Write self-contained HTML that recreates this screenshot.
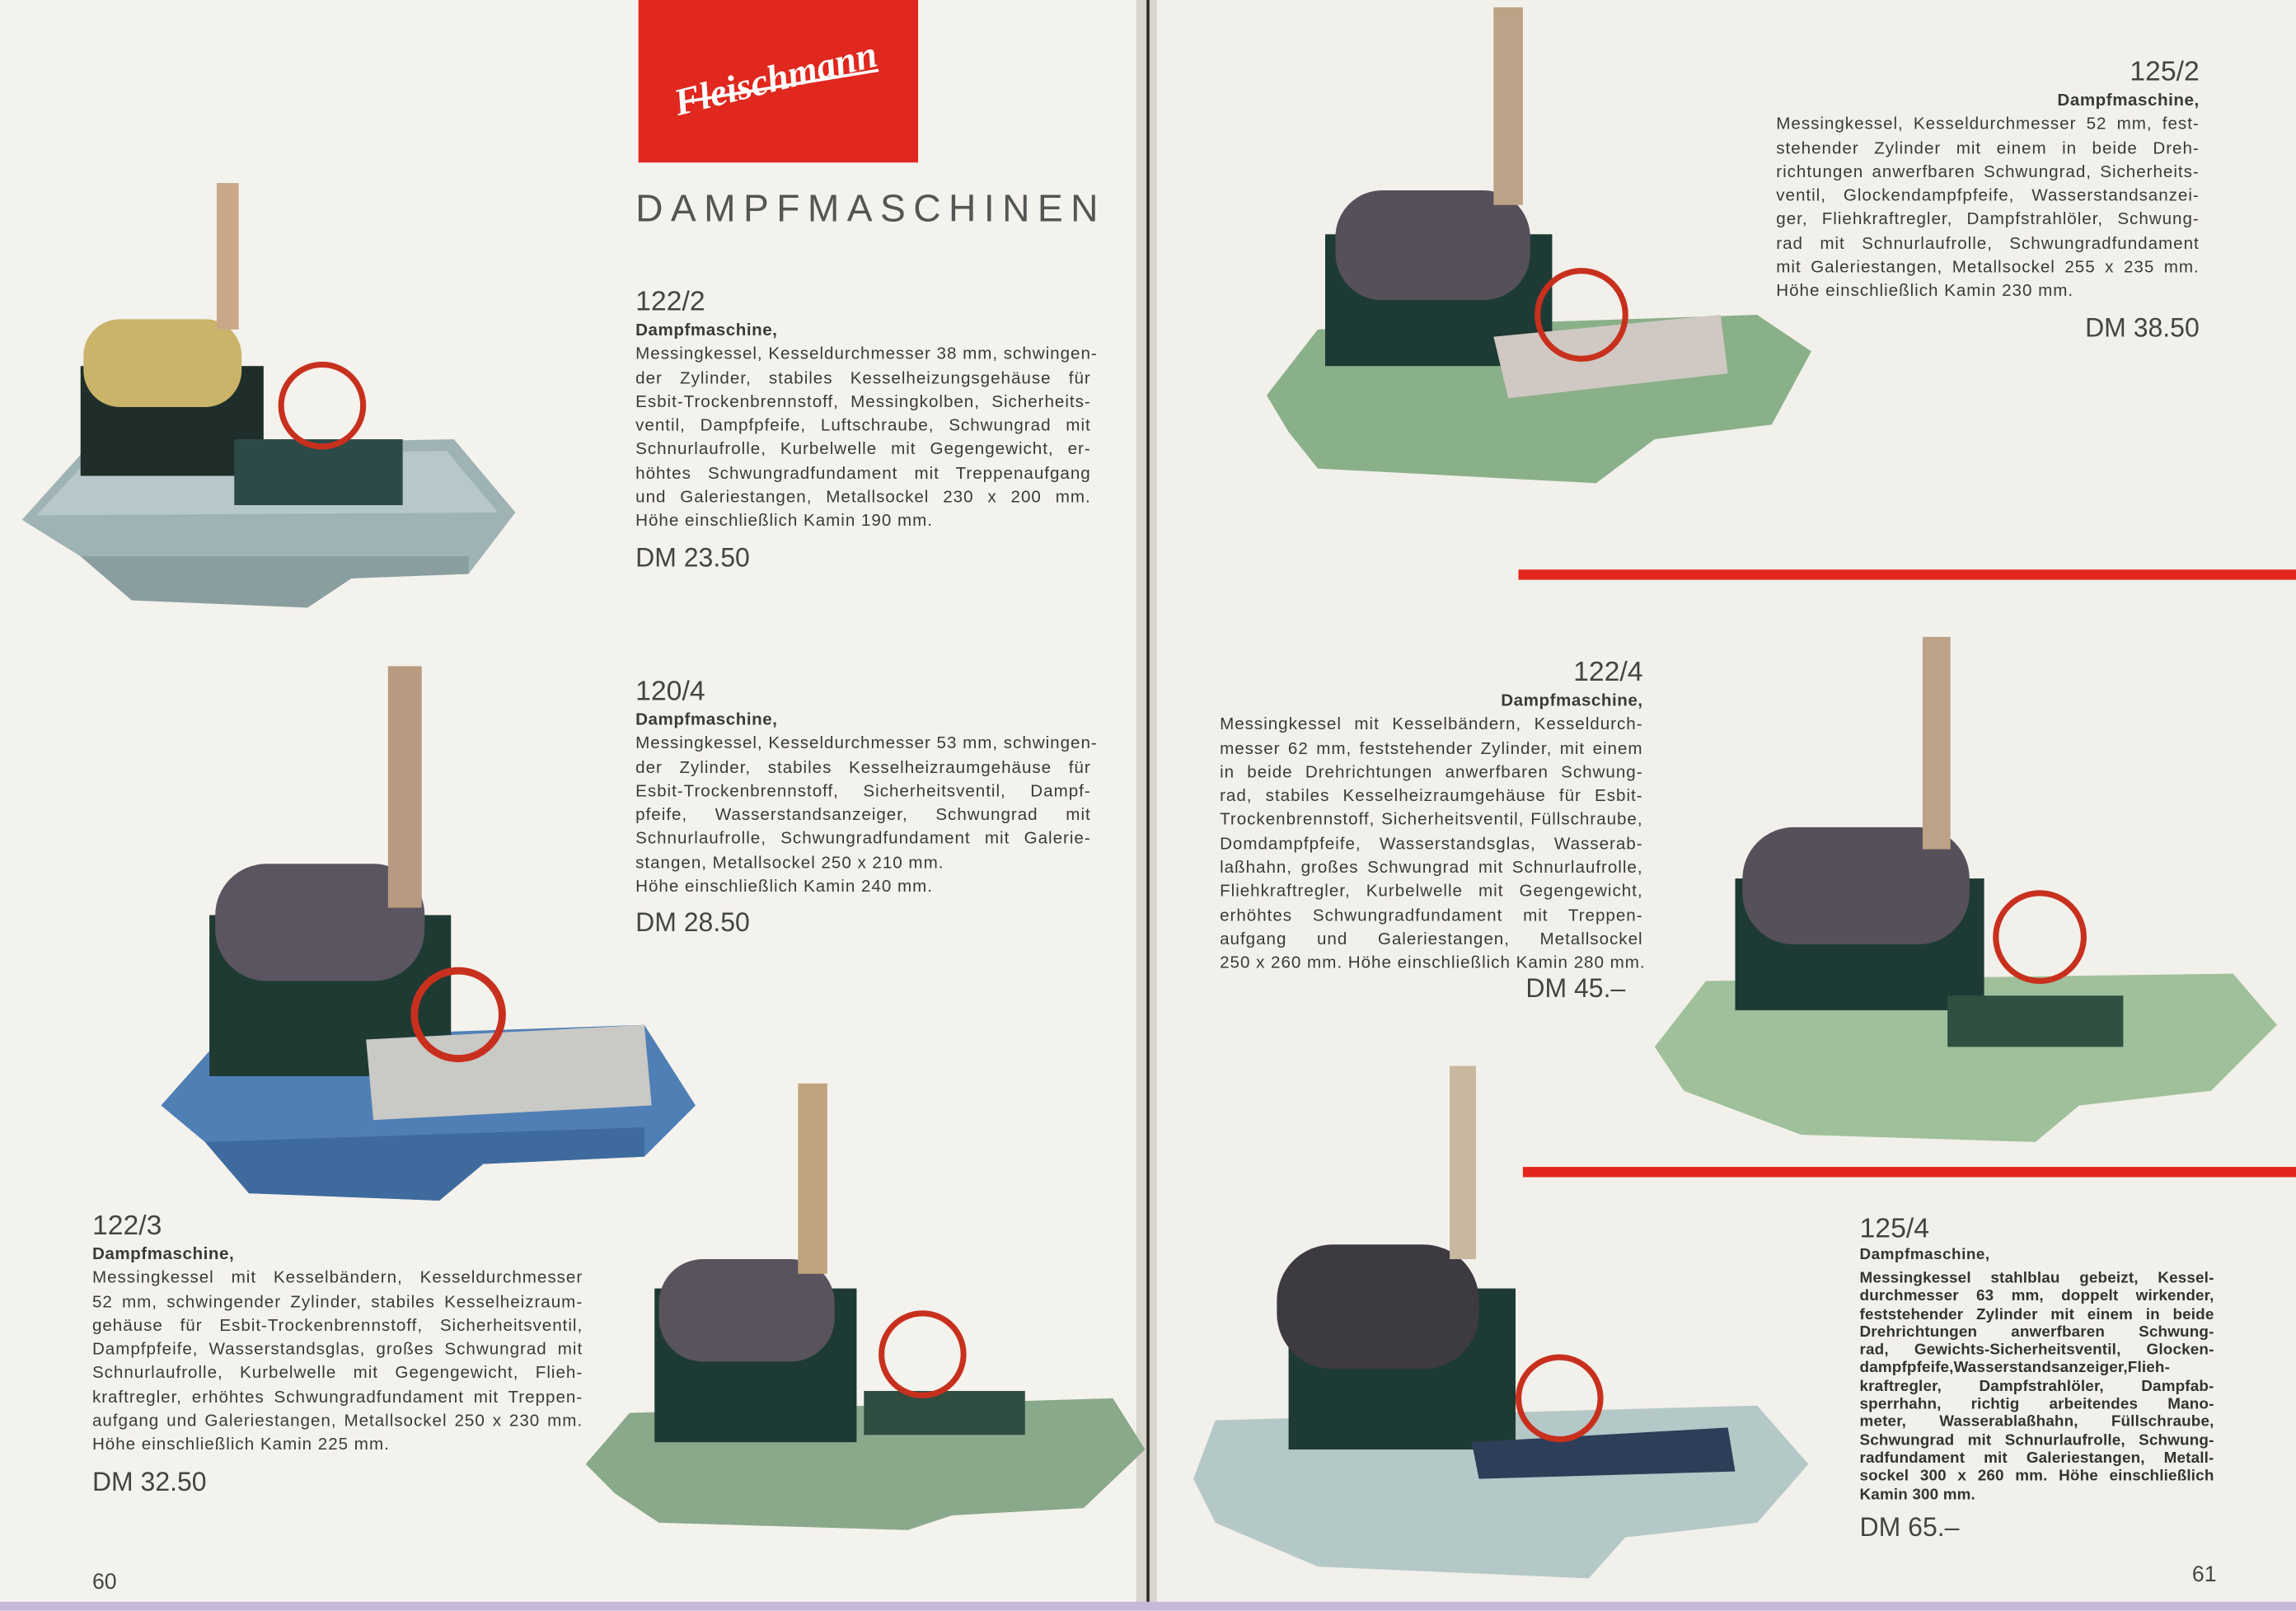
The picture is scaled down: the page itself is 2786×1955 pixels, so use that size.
<!DOCTYPE html>
<html><head><meta charset="utf-8">
<style>
html,body{margin:0;padding:0;}
body{width:2786px;height:1955px;overflow:hidden;background:#f4f2ec;}
#w{position:absolute;left:0;top:0;width:1568px;height:1100px;transform:scale(1.7768);transform-origin:0 0;font-family:"Liberation Sans",sans-serif;color:#3a3a3a;}
svg{position:absolute;left:0;top:0;}
.b{position:absolute;font-size:11.6px;line-height:16.3px;letter-spacing:0.55px;}
.b div{text-align:justify;text-align-last:justify;white-space:nowrap;height:16.3px;overflow:visible}
.b div.l{text-align-last:left}
.b div.r{text-align-last:right}
.n{font-size:19px;line-height:22px;height:22px!important;color:#444;letter-spacing:0}
.t{font-weight:bold;letter-spacing:0.3px}
.p{font-size:18px;line-height:24px;height:26px!important;color:#444;margin-top:4px;letter-spacing:0}
.c{font-size:10.6px;line-height:12.3px;letter-spacing:0.1px;font-weight:bold;color:#333}
.c div{height:12.3px}
</style></head><body><div id="w">
<svg width="1568" height="1100" viewBox="0 0 1568 1100">
<rect x="0" y="0" width="1568" height="1100" fill="#f4f2ec"/>
<rect x="790" y="0" width="778" height="1100" fill="#f2f0ea"/>
<rect x="776" y="0" width="14" height="1100" fill="#d8d5cc"/>
<line x1="784" y1="0" x2="784" y2="1100" stroke="#2a2a2a" stroke-width="2"/>
<rect x="0" y="1094" width="1568" height="6" fill="#c6b8d8"/>
<rect x="436" y="0" width="191" height="111" fill="#e0281e"/>
<text x="530" y="62" font-family="Liberation Serif" font-style="italic" font-weight="bold" font-size="26" fill="#fff" text-anchor="middle" transform="rotate(-14 530 55)">Fleischmann</text>
<path d="M465 70 L600 48" stroke="#fff" stroke-width="2"/>
<rect x="1037" y="389" width="531" height="7" fill="#e3261c"/>
<rect x="1040" y="797" width="528" height="7" fill="#e3261c"/>

<!-- machine 1 -->
<polygon points="15,355 60,305 310,300 352,350 320,392 240,395 210,415 90,410 55,380" fill="#9fb3b5"/>
<polygon points="25,352 62,312 305,308 340,350" fill="#b7c8ca"/>
<polygon points="55,380 320,380 320,392 240,395 210,415 90,410" fill="#8a9ea0"/>
<rect x="55" y="250" width="125" height="75" fill="#1f2e2a"/>
<rect x="57" y="218" width="108" height="60" rx="25" fill="#c9b46a"/>
<rect x="148" y="125" width="15" height="100" fill="#c8a888"/>
<rect x="160" y="300" width="115" height="45" fill="#2c4a48"/>
<circle cx="220" cy="277" r="28" fill="none" stroke="#c8301e" stroke-width="4"/>
<!-- machine 2 -->
<polygon points="110,755 150,710 440,700 475,755 440,790 330,795 300,820 170,815 140,780" fill="#4f7fb5"/>
<polygon points="140,780 440,770 440,790 330,795 300,820 170,815" fill="#3f6a9e"/>
<rect x="143" y="625" width="165" height="110" fill="#1f3a33"/>
<rect x="147" y="590" width="143" height="80" rx="35" fill="#5a5560"/>
<rect x="265" y="455" width="23" height="165" fill="#b89a80"/>
<polygon points="250,710 440,700 445,755 255,765" fill="#c9c9c6"/>
<circle cx="313" cy="693" r="30" fill="none" stroke="#c8301e" stroke-width="5"/>
<!-- machine 3 -->
<polygon points="400,1000 430,965 760,955 782,990 740,1030 650,1035 620,1045 450,1040 420,1020" fill="#8aa88a"/>
<rect x="447" y="880" width="138" height="105" fill="#1e3a34"/>
<rect x="450" y="860" width="120" height="70" rx="30" fill="#58535c"/>
<rect x="545" y="740" width="20" height="130" fill="#c0a480"/>
<rect x="590" y="950" width="110" height="30" fill="#2f4d40"/>
<circle cx="630" cy="925" r="28" fill="none" stroke="#c8301e" stroke-width="4"/>
<!-- machine 4 -->
<polygon points="865,270 900,225 1200,215 1237,240 1210,290 1130,300 1090,330 900,320 880,295" fill="#8ab08a"/>
<rect x="905" y="160" width="155" height="90" fill="#1e3a34"/>
<rect x="912" y="130" width="133" height="75" rx="32" fill="#55505a"/>
<rect x="1020" y="5" width="20" height="135" fill="#bca286"/>
<polygon points="1020,230 1175,215 1180,255 1030,272" fill="#d0c8c2"/>
<circle cx="1080" cy="215" r="30" fill="none" stroke="#c8301e" stroke-width="4"/>
<!-- machine 5 -->
<polygon points="1130,715 1165,670 1525,665 1555,700 1510,745 1420,755 1390,780 1230,775 1150,745" fill="#9fc09a"/>
<rect x="1185" y="600" width="170" height="90" fill="#1e3a34"/>
<rect x="1190" y="565" width="155" height="80" rx="35" fill="#55505a"/>
<rect x="1313" y="435" width="19" height="145" fill="#bca286"/>
<rect x="1330" y="680" width="120" height="35" fill="#2f5040"/>
<circle cx="1393" cy="640" r="30" fill="none" stroke="#c8301e" stroke-width="4"/>
<!-- machine 6 -->
<polygon points="815,1010 830,970 1200,960 1235,1000 1200,1040 1110,1050 1085,1078 900,1070 830,1040" fill="#b5c8c8"/>
<rect x="880" y="880" width="155" height="110" fill="#1e3a34"/>
<rect x="872" y="850" width="138" height="85" rx="38" fill="#3e3a42"/>
<rect x="990" y="728" width="18" height="132" fill="#c8b8a0"/>
<polygon points="1005,985 1180,975 1185,1005 1010,1010" fill="#2e3e58"/>
<circle cx="1065" cy="955" r="28" fill="none" stroke="#c8301e" stroke-width="4"/>
</svg>

<div style="position:absolute;left:434px;top:127px;font-size:26px;letter-spacing:5.3px;color:#555;">DAMPFMASCHINEN</div>

<div class="b" style="left:434px;top:196px;width:311px">
<div class="n l">122/2</div>
<div class="t l">Dampfmaschine,</div>
<div>Messingkessel, Kesseldurchmesser 38 mm, schwingen-</div>
<div>der Zylinder, stabiles Kesselheizungsgehäuse für</div>
<div>Esbit-Trockenbrennstoff, Messingkolben, Sicherheits-</div>
<div>ventil, Dampfpfeife, Luftschraube, Schwungrad mit</div>
<div>Schnurlaufrolle, Kurbelwelle mit Gegengewicht, er-</div>
<div>höhtes Schwungradfundament mit Treppenaufgang</div>
<div>und Galeriestangen, Metallsockel 230 x 200 mm.</div>
<div class="l">Höhe einschließlich Kamin 190 mm.</div>
<div class="p l">DM 23.50</div>
</div>

<div class="b" style="left:434px;top:462px;width:311px">
<div class="n l">120/4</div>
<div class="t l">Dampfmaschine,</div>
<div>Messingkessel, Kesseldurchmesser 53 mm, schwingen-</div>
<div>der Zylinder, stabiles Kesselheizraumgehäuse für</div>
<div>Esbit-Trockenbrennstoff, Sicherheitsventil, Dampf-</div>
<div>pfeife, Wasserstandsanzeiger, Schwungrad mit</div>
<div>Schnurlaufrolle, Schwungradfundament mit Galerie-</div>
<div class="l">stangen, Metallsockel 250 x 210 mm.</div>
<div class="l">Höhe einschließlich Kamin 240 mm.</div>
<div class="p l">DM 28.50</div>
</div>

<div class="b" style="left:63px;top:827px;width:335px">
<div class="n l">122/3</div>
<div class="t l">Dampfmaschine,</div>
<div>Messingkessel mit Kesselbändern, Kesseldurchmesser</div>
<div>52 mm, schwingender Zylinder, stabiles Kesselheizraum-</div>
<div>gehäuse für Esbit-Trockenbrennstoff, Sicherheitsventil,</div>
<div>Dampfpfeife, Wasserstandsglas, großes Schwungrad mit</div>
<div>Schnurlaufrolle, Kurbelwelle mit Gegengewicht, Flieh-</div>
<div>kraftregler, erhöhtes Schwungradfundament mit Treppen-</div>
<div>aufgang und Galeriestangen, Metallsockel 250 x 230 mm.</div>
<div class="l">Höhe einschließlich Kamin 225 mm.</div>
<div class="p l">DM 32.50</div>
</div>

<div class="b" style="left:1213px;top:39px;width:289px">
<div class="n r">125/2</div>
<div class="t r">Dampfmaschine,</div>
<div>Messingkessel, Kesseldurchmesser 52 mm, fest-</div>
<div>stehender Zylinder mit einem in beide Dreh-</div>
<div>richtungen anwerfbaren Schwungrad, Sicherheits-</div>
<div>ventil, Glockendampfpfeife, Wasserstandsanzei-</div>
<div>ger, Fliehkraftregler, Dampfstrahlöler, Schwung-</div>
<div>rad mit Schnurlaufrolle, Schwungradfundament</div>
<div>mit Galeriestangen, Metallsockel 255 x 235 mm.</div>
<div class="l">Höhe einschließlich Kamin 230 mm.</div>
<div class="p r">DM 38.50</div>
</div>

<div class="b" style="left:833px;top:449px;width:289px">
<div class="n r">122/4</div>
<div class="t r">Dampfmaschine,</div>
<div>Messingkessel mit Kesselbändern, Kesseldurch-</div>
<div>messer 62 mm, feststehender Zylinder, mit einem</div>
<div>in beide Drehrichtungen anwerfbaren Schwung-</div>
<div>rad, stabiles Kesselheizraumgehäuse für Esbit-</div>
<div>Trockenbrennstoff, Sicherheitsventil, Füllschraube,</div>
<div>Domdampfpfeife, Wasserstandsglas, Wasserab-</div>
<div>laßhahn, großes Schwungrad mit Schnurlaufrolle,</div>
<div>Fliehkraftregler, Kurbelwelle mit Gegengewicht,</div>
<div>erhöhtes Schwungradfundament mit Treppen-</div>
<div>aufgang und Galeriestangen, Metallsockel</div>
<div>250 x 260 mm. Höhe einschließlich Kamin 280 mm.</div>
<div class="p r" style="margin-top:-4px;padding-right:12px">DM 45.–</div>
</div>

<div class="b c" style="left:1270px;top:829px;width:242px">
<div class="n l" style="font-weight:normal">125/4</div>
<div class="t l" style="height:16px">Dampfmaschine,</div>
<div>Messingkessel stahlblau gebeizt, Kessel-</div>
<div>durchmesser 63 mm, doppelt wirkender,</div>
<div>feststehender Zylinder mit einem in beide</div>
<div>Drehrichtungen anwerfbaren Schwung-</div>
<div>rad, Gewichts-Sicherheitsventil, Glocken-</div>
<div>dampfpfeife,Wasserstandsanzeiger,Flieh-</div>
<div>kraftregler, Dampfstrahlöler, Dampfab-</div>
<div>sperrhahn, richtig arbeitendes Mano-</div>
<div>meter, Wasserablaßhahn, Füllschraube,</div>
<div>Schwungrad mit Schnurlaufrolle, Schwung-</div>
<div>radfundament mit Galeriestangen, Metall-</div>
<div>sockel 300 x 260 mm. Höhe einschließlich</div>
<div class="l">Kamin 300 mm.</div>
<div class="p l" style="font-weight:normal">DM 65.–</div>
</div>

<div style="position:absolute;left:63px;top:1072px;font-size:15px;color:#444">60</div>
<div style="position:absolute;left:1497px;top:1067px;font-size:15px;color:#444">61</div>
</div></body></html>
